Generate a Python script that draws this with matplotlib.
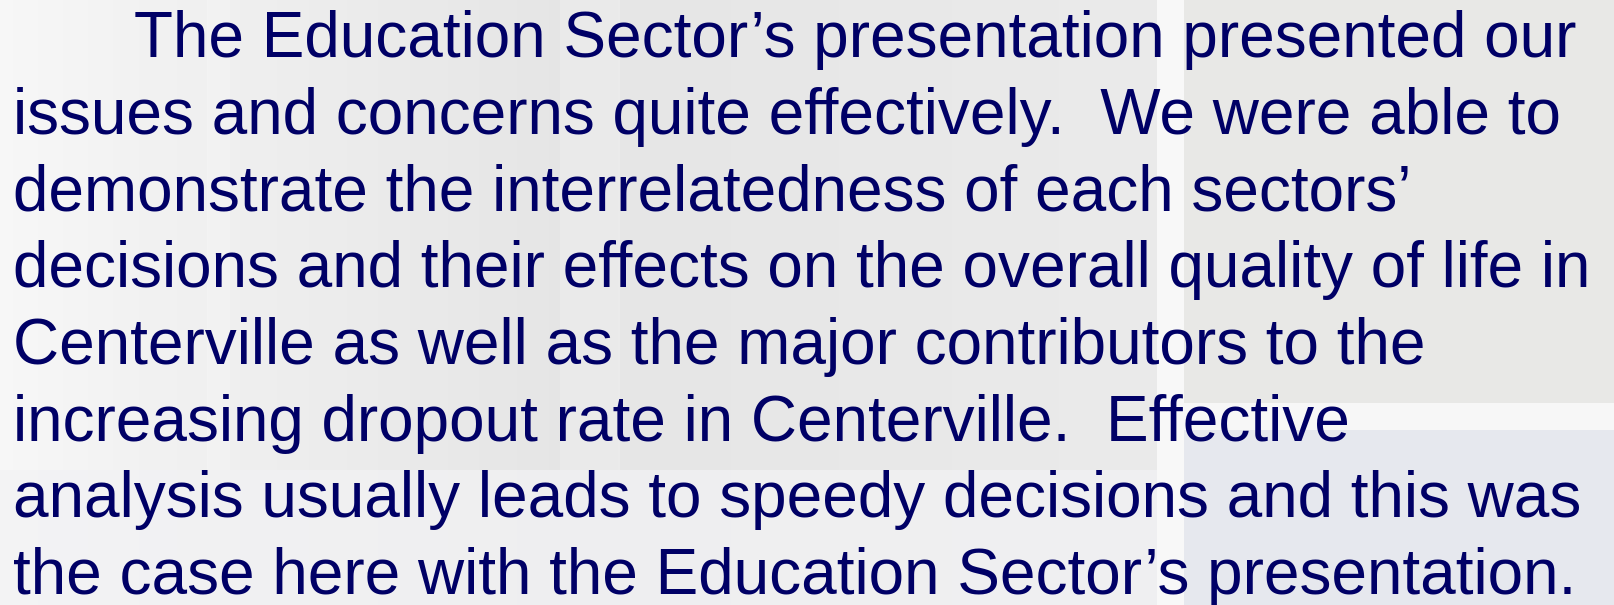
import matplotlib.pyplot as plt
import matplotlib.patches as mpatches
import numpy as np

# slide text, one entry per rendered line
lines = [
    "The Education Sector\u2019s presentation presented our",
    "issues and concerns quite effectively.  We were able to",
    "demonstrate the interrelatedness of each sectors\u2019",
    "decisions and their effects on the overall quality of life in",
    "Centerville as well as the major contributors to the",
    "increasing dropout rate in Centerville.  Effective",
    "analysis usually leads to speedy decisions and this was",
    "the case here with the Education Sector\u2019s presentation.",
]
indent = [1, 0, 0, 0, 0, 0, 0, 0]

W, H = 1614, 605
fig = plt.figure(figsize=(W / 100, H / 100), dpi=100)
ax = fig.add_axes([0, 0, 1, 1])
ax.set_xlim(0, W)
ax.set_ylim(H, 0)
ax.axis('off')

# soft background: light left side fading to gray
xs = np.linspace(0, 1, 256)
shade = np.interp(xs, [0, 0.08, 0.35, 0.7, 1.0], [0.97, 0.95, 0.90, 0.92, 0.91])
img = np.dstack([shade, shade, shade])[0][None, :, :].repeat(2, axis=0)
ax.imshow(img, extent=[0, W, H, 0], aspect='auto', zorder=0)

# faint light stripes in the photo behind the text
ax.add_patch(mpatches.Rectangle((207, 0), 23, 470, color='#f4f4f4', alpha=0.8, zorder=1, lw=0))
ax.add_patch(mpatches.Rectangle((560, 0), 60, 470, color='#f0f0f0', alpha=0.5, zorder=1, lw=0))
# lighter lower-left area
ax.add_patch(mpatches.Rectangle((0, 470), 1157, 135, color='#f2f2f4', alpha=0.75, zorder=1, lw=0))
# white vertical stripe and horizontal band at right
ax.add_patch(mpatches.Rectangle((1157, 0), 27, H, color='#f8f8f8', zorder=1, lw=0))
ax.add_patch(mpatches.Rectangle((1184, 403), W - 1184, 27, color='#f7f7f7', zorder=1, lw=0))
# bluish panel lower right
ax.add_patch(mpatches.Rectangle((1184, 430), W - 1184, H - 430, color='#e6e8ee', zorder=1, lw=0))
# textured gray upper right
ax.add_patch(mpatches.Rectangle((1184, 0), W - 1184, 403, color='#e8e8e6', zorder=1, lw=0))

left = 13
first_indent = 134
baseline0 = 57
spacing = 76.7

for i, txt in enumerate(lines):
    x = first_indent if indent[i] else left
    ax.text(x, baseline0 + i * spacing, txt, fontsize=46,
            family=['Liberation Sans', 'DejaVu Sans'], color='#000066',
            ha='left', va='baseline', zorder=3)

plt.savefig('out.png', dpi=100)
